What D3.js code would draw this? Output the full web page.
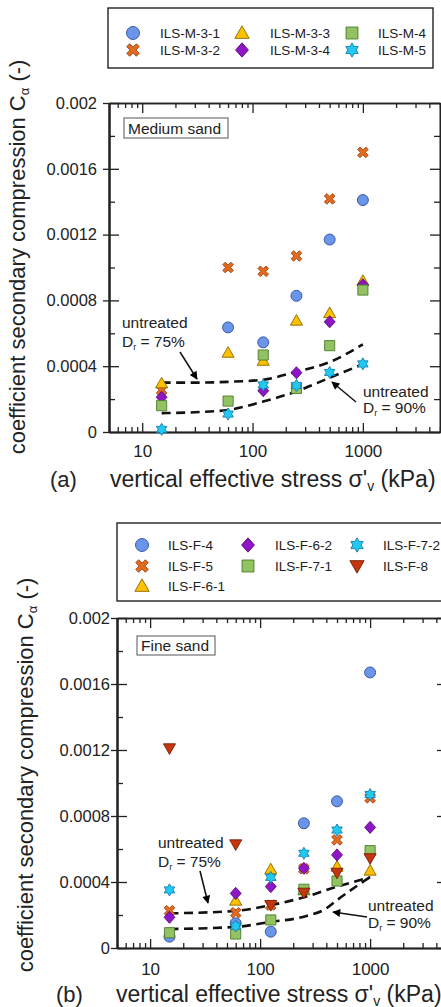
<!DOCTYPE html>
<html>
<head>
<meta charset="utf-8">
<script src="https://cdn.jsdelivr.net/npm/d3@7"></script>
<style>
  body { margin: 0; background: #fff; }
  svg { display: block; font-family: "Liberation Sans", Arial, sans-serif; }
</style>
</head>
<body>
<svg id="chart" width="441" height="1007"></svg>
<script>
// applied vertical stress steps (kPa)
const stress = [15, 60, 125, 250, 500, 1000]

// (a) medium sand
const mediumNames = ["ILS-M-3-1", "ILS-M-3-2", "ILS-M-3-3", "ILS-M-3-4", "ILS-M-4", "ILS-M-5"]
const mediumValues = [
    [null, 0.000636, 0.000545, 0.000828, 0.00117, 0.00141],
    [0.000255, 0.001, 0.000977, 0.00107, 0.001417, 0.0017],
    [0.000296, 0.000482, 0.000433, 0.000677, 0.000723, 0.000919],
    [0.000211, null, 0.000251, 0.00036, 0.00067, 0.000895],
    [0.00016, 0.000188, 0.000468, 0.000265, 0.000525, 0.000863],
    [0.000016, 0.000109, 0.000286, 0.000283, 0.000362, 0.000414]
]
const mediumDr75 = [[15, 0.0003], [30, 0.0003], [60, 0.000305], [125, 0.000318], [250, 0.000367], [500, 0.000425], [1000, 0.000533]]
const mediumDr90 = [[15, 0.000115], [30, 0.00012], [60, 0.000134], [125, 0.000185], [250, 0.000247], [500, 0.00033], [1000, 0.000412]]

// (b) fine sand
const fineNames = ["ILS-F-4", "ILS-F-5", "ILS-F-6-1", "ILS-F-6-2", "ILS-F-7-1", "ILS-F-7-2", "ILS-F-8"]
const fineValues = [
    [0.0000685, 0.00015, 0.0000988, 0.000756, 0.000889, 0.00167],
    [0.000226, 0.000214, 0.00026, 0.00048, 0.000655, 0.00091],
    [null, 0.000287, 0.000477, 0.00035, 0.000493, 0.000469],
    [0.000186, 0.000331, 0.000372, 0.000483, 0.000564, 0.000731],
    [0.0000927, 0.0000848, 0.00017, 0.000356, 0.000406, 0.00059],
    [0.000352, 0.000133, 0.000428, 0.000574, 0.000715, 0.00093],
    [0.00121, 0.000628, 0.00026, 0.000335, 0.000456, 0.000544]
]
const fineDr75 = [[15, 0.00021], [60, 0.000225], [125, 0.00026], [250, 0.000307], [500, 0.000372], [1000, 0.000428]]
const fineDr90 = [[15, 0.000115], [60, 0.000128], [125, 0.000158], [250, 0.00019], [400, 0.00024], [500, 0.00029], [1000, 0.00043]]

const xDomain = [5, 5000]
const xLabels = [10, 100, 1000]
const yMajor = [0, 0.0004, 0.0008, 0.0012, 0.0016, 0.002]
const yMinor = [0.0002, 0.0006, 0.001, 0.0014, 0.0018]

// ---- marker shapes, sized by (2r)^2 ----
function poly(ctx, pts){
    ctx.moveTo(pts[0][0], pts[0][1])
    pts.slice(1).forEach(p => ctx.lineTo(p[0], p[1]))
    ctx.closePath()
}
const shapes = {
    circle: { draw(ctx, s){ let r = Math.sqrt(s) / 2; ctx.moveTo(r, 0); ctx.arc(0, 0, r, 0, 2 * Math.PI) } },
    cross: { draw(ctx, s){
        let r = Math.sqrt(s) / 2 * 1.05, w = r * 0.3
        let pts = [[-w,-r],[w,-r],[w,-w],[r,-w],[r,w],[w,w],[w,r],[-w,r],[-w,w],[-r,w],[-r,-w],[-w,-w]]
        let c = Math.SQRT1_2
        poly(ctx, pts.map(p => [(p[0] - p[1]) * c, (p[0] + p[1]) * c]))
    } },
    triangle: { draw(ctx, s){ let r = Math.sqrt(s) / 2 * 1.1; poly(ctx, [[0, -r], [r, r * 0.75], [-r, r * 0.75]]) } },
    triangleDown: { draw(ctx, s){ let r = Math.sqrt(s) / 2 * 1.1; poly(ctx, [[0, r], [r, -r * 0.75], [-r, -r * 0.75]]) } },
    diamond: { draw(ctx, s){ let r = Math.sqrt(s) / 2 * 1.1; poly(ctx, [[0, -r], [r * 0.9, 0], [0, r], [-r * 0.9, 0]]) } },
    square: { draw(ctx, s){ let h = Math.sqrt(s) / 2 * 0.92; poly(ctx, [[-h, -h], [h, -h], [h, h], [-h, h]]) } },
    hexagram: { draw(ctx, s){
        let r = Math.sqrt(s) / 2 * 1.1, ri = r / Math.sqrt(3), pts = []
        for(let k = 0; k < 6; k++){
            let a = (-90 + 60 * k) * Math.PI / 180, b = (-60 + 60 * k) * Math.PI / 180
            pts.push([r * Math.cos(a), r * Math.sin(a)], [ri * Math.cos(b), ri * Math.sin(b)])
        }
        poly(ctx, pts)
    } }
}
const style = {
    circle: ["#6B95E9", "#2F4F9F"],
    cross: ["#E26B1F", "#9E4413"],
    triangle: ["#FFC000", "#8A6A00"],
    diamond: ["#8E16C6", "#5A0A80"],
    square: ["#93C262", "#4E7A2E"],
    hexagram: ["#22C8F2", "#1080B0"],
    triangleDown: ["#C4360E", "#7A2008"]
}

const svg = d3.select("#chart")
svg.append("defs").append("marker")
    .attr("id", "head").attr("viewBox", "0 0 10 10").attr("refX", 9).attr("refY", 5)
    .attr("markerWidth", 10).attr("markerHeight", 8).attr("markerUnits", "userSpaceOnUse")
    .attr("orient", "auto")
    .append("path").attr("d", "M0,0L10,5L0,10z").attr("fill", "#000")

function marker(g, shape, x, y, r){
    g.append("path")
        .attr("d", d3.symbol().type(shapes[shape]).size((2 * r) ** 2)())
        .attr("transform", `translate(${x},${y})`)
        .attr("fill", style[shape][0])
        .attr("stroke", style[shape][1])
        .attr("stroke-width", 0.9)
}

function drawPanel(cfg){
    let {box, names, values, shapeList, dr75, dr90, legend, label, tag, notes} = cfg
    let g = svg.append("g")

    let x = d3.scaleLog().domain(xDomain).range([box.left, box.right])
    let y = d3.scaleLinear().domain([0, 0.002]).range([box.bottom, box.top])
    let xMinor = x.ticks().filter(v => !xLabels.includes(v))

    // legend
    let lg = g.append("g")
    lg.append("rect").attr("x", legend.x).attr("y", legend.y).attr("width", legend.w).attr("height", legend.h)
        .attr("fill", "#fff").attr("stroke", "#111").attr("stroke-width", 1.3)
    names.forEach((n, i) => {
        let col = legend.cols[i][0], row = legend.cols[i][1]
        let cx = legend.symX[col], cy = legend.rowY[row]
        marker(lg, shapeList[i], cx, cy, 6.5)
        lg.append("text").attr("x", legend.textX[col]).attr("y", cy + 5)
            .attr("font-size", 13.5).attr("fill", "#222").text(n)
    })

    // axes
    let fmtY = v => String(+v.toFixed(4))
    let axes = [
        [d3.axisLeft(y).tickValues(yMajor).tickSize(0).tickPadding(box.yPad).tickFormat(fmtY), `translate(${box.left},0)`, 16.5],
        [d3.axisLeft(y).tickValues(yMajor).tickSize(6).tickFormat(""), `translate(${box.left},0)`],
        [d3.axisLeft(y).tickValues(yMajor).tickSize(-10).tickFormat(""), `translate(${box.left},0)`],
        [d3.axisLeft(y).tickValues(yMinor).tickSize(-6).tickFormat(""), `translate(${box.left},0)`],
        [d3.axisRight(y).tickValues(yMajor).tickSize(-10).tickFormat(""), `translate(${box.right},0)`],
        [d3.axisRight(y).tickValues(yMinor).tickSize(-6).tickFormat(""), `translate(${box.right},0)`],
        [d3.axisBottom(x).tickValues(xLabels).tickSize(0).tickPadding(box.xPad).tickFormat(d3.format("d")), `translate(0,${box.bottom})`, 17],
        [d3.axisBottom(x).tickValues(xLabels).tickSize(-9).tickFormat(""), `translate(0,${box.bottom})`],
        [d3.axisBottom(x).tickValues(xMinor).tickSize(-5).tickFormat(""), `translate(0,${box.bottom})`],
        [d3.axisTop(x).tickValues(xLabels).tickSize(-10).tickFormat(""), `translate(0,${box.top})`],
        [d3.axisTop(x).tickValues(xMinor).tickSize(-5).tickFormat(""), `translate(0,${box.top})`]
    ]
    axes.forEach(([ax, tr, fs]) => {
        let a = g.append("g").attr("transform", tr).call(ax.tickSizeOuter(0))
        a.select(".domain").attr("stroke", "#222").attr("stroke-width", 1.6)
        a.selectAll(".tick line").attr("stroke", "#222").attr("stroke-width", 1.3)
        a.selectAll("text").attr("font-size", fs).attr("fill", "#222")
            .attr("font-family", "Liberation Sans, Arial, sans-serif")
    })

    // sample label box
    g.append("rect").attr("x", label.x).attr("y", label.y).attr("width", label.w).attr("height", label.h)
        .attr("fill", "#fff").attr("stroke", "#555").attr("stroke-width", 1)
    g.append("text").attr("x", label.x + 4).attr("y", label.y + label.h - 4.5)
        .attr("font-size", 15.5).attr("fill", "#222").text(label.text)

    // untreated reference curves
    let line = d3.line().x(d => x(d[0])).y(d => y(d[1])).curve(d3.curveMonotoneX)
    ;[dr75, dr90].forEach(c => {
        g.append("path").attr("d", line(c)).attr("fill", "none")
            .attr("stroke", "#111").attr("stroke-width", 2.6).attr("stroke-dasharray", "9,5.5")
    })

    // measured points
    values.forEach((vals, i) => {
        vals.forEach((v, j) => {
            if(v == null) return
            marker(g, shapeList[i], x(stress[j]), y(v), 5.5)
        })
    })

    // annotations
    notes.forEach(n => {
        g.append("text").attr("x", n.x).attr("y", n.y1).attr("font-size", 15.5).attr("fill", "#222").text("untreated")
        let t = g.append("text").attr("x", n.x).attr("y", n.y2).attr("font-size", 15.5).attr("fill", "#222")
        t.append("tspan").text("D")
        t.append("tspan").attr("font-size", 9).attr("dy", 3).text("r")
        t.append("tspan").attr("dy", -3).text(" = " + n.dr)
        g.append("line").attr("x1", n.a[0]).attr("y1", n.a[1]).attr("x2", n.a[2]).attr("y2", n.a[3])
            .attr("stroke", "#111").attr("stroke-width", 1.5).attr("marker-end", "url(#head)")
    })

    // axis titles
    let yt = g.append("text").attr("transform", `translate(${box.yTitleX},${box.yTitleY}) rotate(-90)`)
        .attr("text-anchor", "middle").attr("font-size", 22).attr("fill", "#222")
    yt.append("tspan").text("coefficient secondary compression C")
    yt.append("tspan").attr("font-size", 13).attr("dy", 4).text("α")
    yt.append("tspan").attr("dy", -4).text(" (-)")

    g.append("text").attr("x", box.tagX).attr("y", box.xTitleY).attr("font-size", 22).attr("fill", "#222").text(tag)
    let xt = g.append("text").attr("x", box.xTitleX).attr("y", box.xTitleY).attr("font-size", 23).attr("fill", "#222")
    xt.append("tspan").text("vertical effective stress σ'")
    xt.append("tspan").attr("font-size", 14).attr("dy", 4).text("v")
    xt.append("tspan").attr("dy", -4).text(" (kPa)")
}

drawPanel({
    box: {left: 109, right: 440, top: 103, bottom: 432, yPad: 12, xPad: 13,
        yTitleX: 25, yTitleY: 257, xTitleX: 110, xTitleY: 487, tagX: 50},
    names: mediumNames, values: mediumValues,
    shapeList: ["circle", "cross", "triangle", "diamond", "square", "hexagram"],
    dr75: mediumDr75, dr90: mediumDr90,
    legend: {x: 108, y: 8, w: 325, h: 60, symX: [133, 242, 352], textX: [160, 270, 378], rowY: [33, 50],
        cols: [[0, 0], [0, 1], [1, 0], [1, 1], [2, 0], [2, 1]]},
    label: {x: 124, y: 118, w: 104, h: 20, text: "Medium sand"},
    tag: "(a)",
    notes: [
        {x: 122, y1: 328, y2: 347, dr: "75%", a: [180, 352, 197, 379]},
        {x: 363, y1: 397, y2: 413, dr: "90%", a: [356, 402, 332, 382]}
    ]
})

drawPanel({
    box: {left: 117, right: 447, top: 618, bottom: 948, yPad: 7, xPad: 15,
        yTitleX: 33, yTitleY: 775, xTitleX: 116, xTitleY: 1002, tagX: 56},
    names: fineNames, values: fineValues,
    shapeList: ["circle", "cross", "triangle", "diamond", "square", "hexagram", "triangleDown"],
    dr75: fineDr75, dr90: fineDr90,
    legend: {x: 117, y: 523, w: 340, h: 78, symX: [142, 248, 357], textX: [168, 275, 383], rowY: [545, 566, 586],
        cols: [[0, 0], [0, 1], [0, 2], [1, 0], [1, 1], [2, 0], [2, 1]]},
    label: {x: 137, y: 636, w: 78, h: 19, text: "Fine sand"},
    tag: "(b)",
    notes: [
        {x: 158, y1: 848, y2: 867, dr: "75%", a: [200, 871, 208, 903]},
        {x: 368, y1: 911, y2: 928, dr: "90%", a: [367, 917, 333, 912]}
    ]
})
</script>
</body>
</html>
